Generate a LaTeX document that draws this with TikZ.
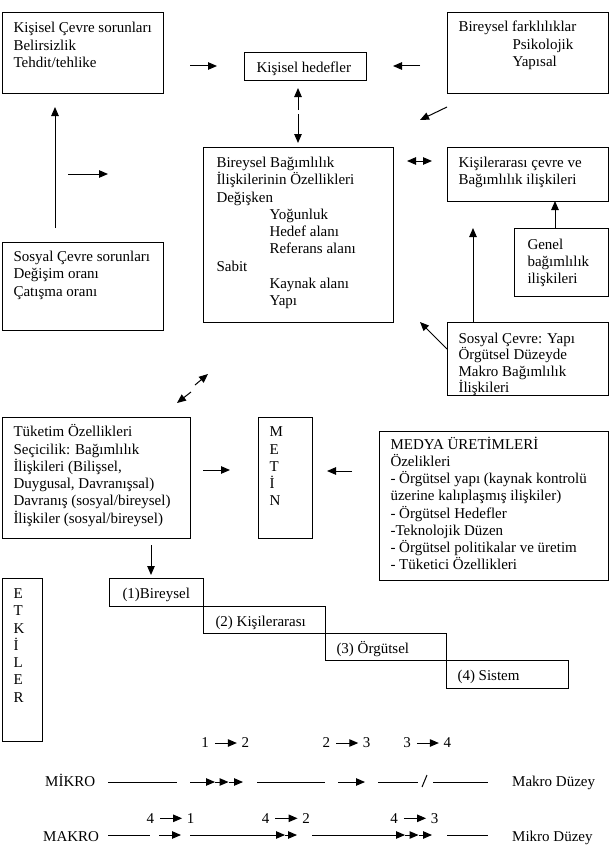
\documentclass[tikz,border=0pt]{standalone}
\usepackage{fontspec}
\setmainfont{Liberation Serif}
\usetikzlibrary{arrows.meta}
\newcommand{\bx}[5]{\parbox[c][#2][t]{#1}{\parindent=0pt\leftskip=#4\rightskip=0pt plus 1fil\rule{0pt}{#3}#5}}
\newcommand{\ind}{\hspace*{53pt}}
\tikzset{
  txt/.style={font=\fontsize{15}{17.25}\selectfont},
  box/.style={draw, line width=1pt, inner sep=0pt, anchor=north west, txt},
  tip/.style={-{Triangle[length=9pt,width=7.5pt]}},
  arr/.style={line width=1pt, tip},
  darr/.style={line width=1pt, {Triangle[length=9pt,width=7.5pt]}-{Triangle[length=9pt,width=7.5pt]}},
  ln/.style={line width=1pt},
  lbl/.style={inner sep=0pt, anchor=base west, txt},
  dig/.style={inner sep=0pt, txt},
  darrow/.style={arr, shorten <=6pt, shorten >=4.5pt},
}
\begin{document}
\begin{tikzpicture}[x=1pt,y=-1pt]
\useasboundingbox (0,0) rectangle (611,867);
% boxes
\node[box] (kcevre) at (2,12) {\bx{161pt}{81pt}{20.5pt}{11pt}{Kişisel Çevre sorunları\\Belirsizlik\\Tehdit/tehlike}};
\node[box] (hedef) at (244,52) {\bx{122pt}{28pt}{19.7pt}{12pt}{Kişisel hedefler}};
\node[box] (farkli) at (447,12) {\bx{161pt}{81pt}{19.5pt}{11pt}{Bireysel farklılıklar\\\hspace*{54pt}Psikolojik\\\hspace*{54pt}Yapısal}};
\node[box] (bagim) at (203,147) {\bx{190pt}{175pt}{20pt}{13pt}{Bireysel Bağımlılık\\İlişkilerinin Özellikleri\\Değişken\\\ind Yoğunluk\\\ind Hedef alanı\\\ind Referans alanı\\Sabit\\\ind Kaynak alanı\\\ind Yapı}};
\node[box] (kisiler) at (447,147) {\bx{161pt}{54pt}{20pt}{11pt}{Kişilerarası çevre ve\\Bağımlılık ilişkileri}};
\node[box] (genel) at (514,228) {\bx{94pt}{68pt}{20.5pt}{13pt}{Genel\\bağımlılık\\ilişkileri}};
\node[box] (sosyal) at (2,242) {\bx{161pt}{88pt}{19pt}{11pt}{Sosyal Çevre sorunları\\Değişim oranı\\Çatışma oranı}};
\node[box] (yapi) at (447,322) {\bx{161pt}{73pt}{20.5pt}{11pt}{\fontsize{15}{16.5}\selectfont Sosyal Çevre: Yapı\\Örgütsel Düzeyde\\Makro Bağımlılık\\İlişkileri}};
\node[box] (tuketim) at (2,417) {\bx{188pt}{121pt}{19.3pt}{11pt}{Tüketim Özellikleri\\Seçicilik: Bağımlılık\\İlişkileri (Bilişsel,\\Duygusal, Davranışsal)\\Davranış (sosyal/bireysel)\\İlişkiler (sosyal/bireysel)}};
\node[box] (metin) at (258,417) {\bx{54pt}{121pt}{19.3pt}{11pt}{M\\E\\T\\İ\\N}};
\node[box] (medya) at (379,431) {\bx{229pt}{149pt}{17.5pt}{11pt}{MEDYA ÜRETİMLERİ\\Özelikleri\\- Örgütsel yapı (kaynak kontrolü\\üzerine kalıplaşmış ilişkiler)\\- Örgütsel Hedefler\\-Teknolojik Düzen\\- Örgütsel politikalar ve üretim\\- Tüketici Özellikleri}};
\node[box] (etkiler) at (2,578) {\bx{40pt}{163pt}{20pt}{11pt}{E\\T\\K\\İ\\L\\E\\R}};
\node[box] (s1) at (109,578) {\bx{94pt}{28pt}{20pt}{13pt}{(1)Bireysel}};
\node[box] (s2) at (203,606) {\bx{122pt}{27pt}{20pt}{12pt}{(2) Kişilerarası}};
\node[box] (s3) at (325,633) {\bx{121pt}{27pt}{20pt}{11pt}{(3) Örgütsel}};
\node[box] (s4) at (446,660) {\bx{122pt}{28pt}{20pt}{11pt}{(4) Sistem}};
% connectors between boxes
\coordinate (a1s) at (190,66); \coordinate (a1e) at (217,66);
\draw[arr] (a1s) -- (a1e);
\coordinate (a2s) at (420,66); \coordinate (a2e) at (393,66);
\draw[arr] (a2s) -- (a2e);
\coordinate (a3s) at (447,107); \coordinate (a3e) at (420,120);
\draw[arr] (a3s) -- (a3e);
\coordinate (a4u) at (298,110); \coordinate (a4ut) at (298,88);
\coordinate (a4d) at (298,114); \coordinate (a4dt) at (298,143);
\draw[arr] (a4u) -- (a4ut);
\draw[arr] (a4d) -- (a4dt);
\coordinate (a5s) at (68,174); \coordinate (a5e) at (108,174);
\draw[arr] (a5s) -- (a5e);
\coordinate (a6s) at (55,228); \coordinate (a6e) at (55,107);
\draw[arr] (a6s) -- (a6e);
\coordinate (a7s) at (407,161); \coordinate (a7e) at (432,161);
\draw[darr] (a7s) -- (a7e);
\coordinate (a8s) at (555,228); \coordinate (a8e) at (555,201);
\draw[arr] (a8s) -- (a8e);
\coordinate (a9s) at (473,322); \coordinate (a9e) at (473,228);
\draw[arr] (a9s) -- (a9e);
\coordinate (a10s) at (447,349); \coordinate (a10e) at (420,322);
\draw[arr] (a10s) -- (a10e);
\coordinate (a11a) at (191,392); \coordinate (a11at) at (177,403);
\coordinate (a11b) at (195,385); \coordinate (a11bt) at (208,374);
\draw[arr] (a11a) -- (a11at);
\draw[arr] (a11b) -- (a11bt);
\coordinate (a12s) at (203,470); \coordinate (a12e) at (230,470);
\draw[arr] (a12s) -- (a12e);
\coordinate (a13s) at (352,471); \coordinate (a13e) at (327,471);
\draw[arr] (a13s) -- (a13e);
\coordinate (a14s) at (151,545); \coordinate (a14e) at (151,575);
\draw[arr] (a14s) -- (a14e);
% level transitions
\node[dig] (t1a) at (205,743) {1}; \node[dig] (t1b) at (245.3,743) {2};
\draw[darrow] (t1a) -- (t1b);
\node[dig] (t2a) at (326.3,743) {2}; \node[dig] (t2b) at (366.7,743) {3};
\draw[darrow] (t2a) -- (t2b);
\node[dig] (t3a) at (407,743) {3}; \node[dig] (t3b) at (447.3,743) {4};
\draw[darrow] (t3a) -- (t3b);
\node[dig] (u1a) at (150.3,818.3) {4}; \node[dig] (u1b) at (190.5,818.3) {1};
\draw[darrow] (u1a) -- (u1b);
\node[dig] (u2a) at (265.5,818.3) {4}; \node[dig] (u2b) at (306,818.3) {2};
\draw[darrow] (u2a) -- (u2b);
\node[dig] (u3a) at (394,818.3) {4}; \node[dig] (u3b) at (434.5,818.3) {3};
\draw[darrow] (u3a) -- (u3b);
% MIKRO row
\node[lbl] (mikro) at (45,786.7) {MİKRO};
\node[lbl] (makrod) at (512,786.7) {Makro Düzey};
\coordinate (m1) at (108,782); \coordinate (m2) at (177,782);
\coordinate (m3) at (190,782); \coordinate (m4) at (215,782); \coordinate (m5) at (228.5,782); \coordinate (m6) at (243,782);
\coordinate (m7) at (257,782); \coordinate (m8) at (325,782);
\coordinate (m9) at (338,782); \coordinate (m10) at (365,782);
\coordinate (m11) at (378,782); \coordinate (m12) at (418,782);
\coordinate (m13) at (422,787); \coordinate (m14) at (427,775);
\coordinate (m15) at (433,782); \coordinate (m16) at (488,782);
\draw[ln] (m1) -- (m2);
\draw[arr] (m3) -- (m4); \draw[arr] (m4) -- (m5); \draw[arr] (m5) -- (m6);
\draw[ln] (m7) -- (m8);
\draw[arr] (m9) -- (m10);
\draw[ln] (m11) -- (m12);
\draw[ln] (m13) -- (m14);
\draw[ln] (m15) -- (m16);
% MAKRO row
\node[lbl] (makro) at (43,841.7) {MAKRO};
\node[lbl] (mikrod) at (512,841.7) {Mikro Düzey};
\coordinate (k1) at (108,835); \coordinate (k2) at (150,835);
\coordinate (k3) at (159,835); \coordinate (k4) at (181,835);
\coordinate (k5) at (190,835); \coordinate (k6) at (285,835); \coordinate (k7) at (297,835);
\coordinate (k8) at (312,835); \coordinate (k9) at (405,835); \coordinate (k10) at (418.5,835); \coordinate (k11) at (432,835);
\coordinate (k12) at (447,835); \coordinate (k13) at (488,835);
\draw[ln] (k1) -- (k2);
\draw[arr] (k3) -- (k4);
\draw[arr] (k5) -- (k6); \draw[arr] (k6) -- (k7);
\draw[arr] (k8) -- (k9); \draw[arr] (k9) -- (k10); \draw[arr] (k10) -- (k11);
\draw[ln] (k12) -- (k13);
\end{tikzpicture}
\end{document}
